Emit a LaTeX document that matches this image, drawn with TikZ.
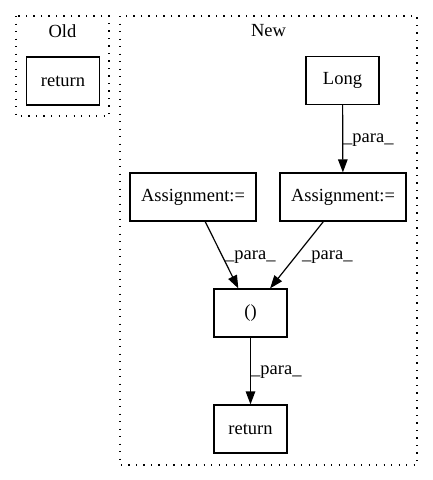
\documentclass[tikz,border=0pt]{standalone}
\usepackage{fontspec}
\setmainfont{Liberation Serif}
\usetikzlibrary{arrows.meta}
\begin{document}
\begin{tikzpicture}[x=1pt,y=-1pt,
  box/.style={draw,line width=1.2pt,minimum width=#1,minimum height=48pt,inner sep=0pt,font=\fontsize{18.5}{22}\selectfont},
  box/.default=73pt,
  cluster/.style={draw,line width=1.3pt,dash pattern=on 1.3pt off 6.2pt},
  lbl/.style={font=\fontsize{18.5}{22}\selectfont,anchor=west,inner sep=0pt},
  ttl/.style={font=\fontsize{18.5}{22}\selectfont,inner sep=0pt},
  edge/.style={line width=1.2pt,-{Triangle[length=13pt,width=9.5pt]}}]
\useasboundingbox (0,0) rectangle (432,480);
\draw[cluster] (16,16) rectangle (109,116);
\draw[cluster] (120,16) rectangle (417,465);
\node[ttl] (oldt) at (62.5,31) {Old};
\node[ttl] (newt) at (268.5,31) {New};
\node[box] (oret) at (63,81) {return};
\node[box] (long) at (342.5,80.5) {Long};
\node[box=126pt] (asl) at (193,197) {Assignment:=};
\node[box=126pt] (asr) at (343,197) {Assignment:=};
\node[box] (par) at (250.5,313) {()};
\node[box] (nret) at (250.5,429) {return};
\draw[edge] (long) -- (asr);
\draw[edge] (asl) -- (par);
\draw[edge] (asr) -- (par);
\draw[edge] (par) -- (nret);
\node[lbl] (l1) at (343,140) {\_para\_};
\node[lbl] (l2) at (225,257) {\_para\_};
\node[lbl] (l3) at (302,257) {\_para\_};
\node[lbl] (l4) at (251,372) {\_para\_};
\end{tikzpicture}
\end{document}
